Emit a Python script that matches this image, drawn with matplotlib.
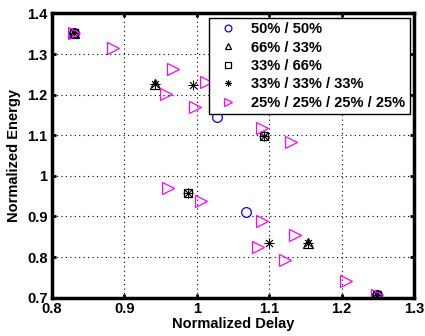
import numpy as np
import matplotlib
matplotlib.use('Agg')
import matplotlib.pyplot as plt

plt.rcParams['font.family'] = ['Liberation Sans', 'DejaVu Sans']
plt.rcParams['font.weight'] = 'bold'

# 50% / 50%
x_half = [0.831, 1.028, 1.068, 1.248]
y_half = [1.351, 1.145, 0.910, 0.706]
# 66% / 33%
x_66 = [0.831, 0.942, 1.153, 1.248]
y_66 = [1.351, 1.226, 0.834, 0.706]
# 33% / 66%
x_33 = [0.831, 0.988, 1.093, 1.248]
y_33 = [1.351, 0.959, 1.099, 0.706]
# 33% / 33% / 33%
x_three = [0.831, 0.942, 0.988, 0.995, 1.093, 1.100, 1.153, 1.248]
y_three = [1.351, 1.226, 0.959, 1.223, 1.099, 0.834, 0.834, 0.706]
# 25% / 25% / 25% / 25%
x_four = [0.831, 0.884, 0.968, 0.958, 0.998, 1.013, 1.090, 1.130,
          0.961, 1.006, 1.090, 1.085, 1.135, 1.122, 1.206, 1.248]
y_four = [1.351, 1.315, 1.263, 1.201, 1.169, 1.232, 1.118, 1.084,
          0.971, 0.938, 0.888, 0.825, 0.854, 0.794, 0.741, 0.706]

fig = plt.figure(figsize=(4.25, 3.36), dpi=100)
ax = fig.add_axes([0.1216, 0.114, 0.853, 0.846])

ms = 7
ax.plot(x_half, y_half, 'o', ls='none', mfc='none', mec='blue', ms=ms, mew=0.9, label='50% / 50%')
ax.plot(x_66, y_66, '^', ls='none', mfc='none', mec='black', ms=ms, mew=0.9, label='66% / 33%')
ax.plot(x_33, y_33, 's', ls='none', mfc='none', mec='black', ms=ms - 1, mew=0.9, label='33% / 66%')
ax.plot(x_three, y_three, marker=(8, 2, 0), ls='none', color='black', ms=ms, mew=0.6,
        label='33% / 33% / 33%')
ax.plot(x_four, y_four, '>', ls='none', mfc='none', mec='magenta', ms=ms + 2, mew=0.9,
        label='25% / 25% / 25% / 25%')

ax.set_xlim(0.8, 1.3)
ax.set_ylim(0.7, 1.4)
ax.set_xticks(np.arange(0.8, 1.31, 0.1))
ax.set_yticks(np.arange(0.7, 1.41, 0.1))
ax.set_xticklabels(['0.8', '0.9', '1', '1.1', '1.2', '1.3'])
ax.set_yticklabels(['0.7', '0.8', '0.9', '1', '1.1', '1.2', '1.3', '1.4'])
ax.tick_params(direction='in', length=3, width=2, top=True, right=True, labelsize=10.5, pad=3)
ax.grid(True, color='black', linestyle=(0, (1, 3)), linewidth=0.8)
for s in ax.spines.values():
    s.set_linewidth(2.5)

ax.set_xlabel('Normalized Delay', fontsize=10.5, fontweight='bold', labelpad=1)
ax.set_ylabel('Normalized Energy', fontsize=10.5, fontweight='bold', labelpad=4)

leg = ax.legend(loc='upper right', fontsize=10.5, frameon=True, fancybox=False,
                edgecolor='black', framealpha=1, markerscale=0.7, handlelength=2.0,
                handletextpad=0.6, borderaxespad=0.3, labelspacing=0.3,
                borderpad=0.3)
leg.get_frame().set_linewidth(1.0)
leg.set_zorder(5)
for t in leg.get_texts():
    t.set_fontweight('bold')

fig.savefig('out.png', dpi=100)
